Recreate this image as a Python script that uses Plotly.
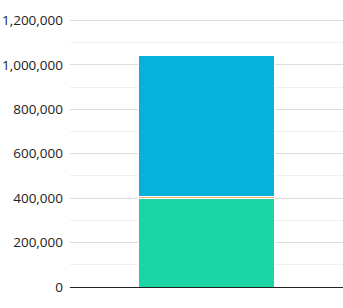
import plotly.graph_objects as go

categories = ["Total"]
series_names = ["A", "B", "C"]
series_values = [[399000], [10000], [631000]]
series_colors = ["#19D6A4", "#F2A766", "#06B1DC"]
tick_vals = [0, 200000, 400000, 600000, 800000, 1000000, 1200000]
tick_text = ["0", "200,000", "400,000", "600,000", "800,000", "1,000,000", "1,200,000"]

fig = go.Figure()
for name, vals, col in zip(series_names, series_values, series_colors):
    fig.add_trace(go.Bar(x=categories, y=vals, name=name,
                         marker=dict(color=col, line=dict(color="white", width=1))))

fig.update_layout(
    barmode="stack", bargap=0.5, showlegend=False,
    width=343, height=308,
    margin=dict(l=70, r=0, t=19, b=21),
    plot_bgcolor="white", paper_bgcolor="white",
    font=dict(family="Open Sans", size=13.5, color="#222"),
    xaxis=dict(showticklabels=False, showgrid=False, showline=True,
               linecolor="#222", linewidth=1, ticks=""),
    yaxis=dict(range=[0, 1206000], tickvals=tick_vals, ticktext=tick_text,
               showgrid=True, gridcolor="#dddddd", gridwidth=1,
               zeroline=False, ticks="", ticklabelstandoff=6,
               minor=dict(dtick=100000, showgrid=True, gridcolor="#f0f0f0", gridwidth=1)),
)
fig.write_html("out.html")
